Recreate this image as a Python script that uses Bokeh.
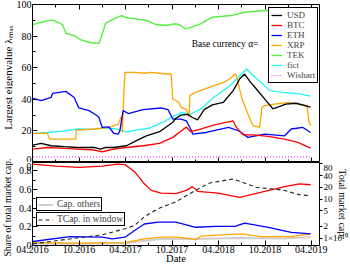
import pandas as pd
from math import pi
from bokeh.plotting import figure
from bokeh.layouts import column, row
from bokeh.models import (Range1d, LinearAxis, LogAxis, DatetimeAxis, FixedTicker,
                          DatetimeTickFormatter, BasicTickFormatter, Label, Legend,
                          LegendItem, LogScale)
from bokeh.embed import file_html
from bokeh.resources import INLINE

FONT = "Liberation Serif"

# ---------------- data ----------------
MAJOR_TICKS = ["2016-04-01", "2016-10-01", "2017-04-01", "2017-10-01",
               "2018-04-01", "2018-10-01", "2019-04-01"]
MINOR_TICKS = ["2016-07-01", "2017-01-01", "2017-07-01", "2018-01-01",
               "2018-07-01", "2019-01-01"]
X_START, X_END = "2016-04-01", "2019-05-03"

EIG_TICKS = [0, 20, 40, 60, 80, 100]
EIG_MINOR = [10, 30, 50, 70, 90]
SHARE_TOP = 0.888
SHARE_TICKS = [0, 0.2, 0.4, 0.6, 0.8]
SHARE_MINOR = [0.1, 0.3, 0.5, 0.7]
CAP_TICKS = [1, 2, 5, 10, 20, 40, 80]
CAP_RANGE = (0.652, 86)

USD_D = ["2016-04-03", "2016-05-05", "2016-06-13", "2016-08-04", "2016-09-25", "2016-11-29",
         "2016-12-24", "2017-01-13", "2017-02-14", "2017-04-05", "2017-05-14", "2017-06-22",
         "2017-08-13", "2017-10-04", "2017-10-16", "2017-11-05", "2017-12-01", "2017-12-20",
         "2018-01-09", "2018-02-04", "2018-03-08", "2018-04-20", "2018-05-29", "2018-06-24",
         "2018-07-13", "2018-08-02", "2018-08-28", "2018-10-06", "2018-11-01", "2018-11-20",
         "2018-12-22", "2019-01-31", "2019-03-29"]
USD_V = [11.0, 12.1, 10.6, 10.0, 9.5, 9.5, 8.5, 9.5, 9.5, 10.6, 13.8, 16.9, 19.5, 25.5, 28.0,
         30.0, 30.5, 28.5, 27.0, 33.5, 36.5, 38.0, 45.5, 53.0, 56.0, 51.5, 46.5, 39.0, 34.0,
         35.0, 37.0, 37.5, 35.0]

BTC_D = ["2016-04-03", "2016-05-30", "2016-07-21", "2016-09-25", "2016-11-29", "2016-12-31",
         "2017-02-14", "2017-04-05", "2017-06-09", "2017-08-13", "2017-10-04", "2017-11-26",
         "2017-12-13", "2018-01-17", "2018-03-20", "2018-05-29", "2018-06-11", "2018-07-07",
         "2018-08-15", "2018-10-14", "2018-12-17", "2019-02-07", "2019-03-29"]
BTC_V = [8.5, 9.5, 9.1, 8.5, 7.9, 6.8, 8.5, 9.5, 10.6, 12.1, 15.9, 22.5, 19.5, 21.0, 24.0,
         26.4, 22.2, 17.5, 17.5, 16.5, 14.8, 12.7, 9.1]

ETH_D = ["2016-04-03", "2016-05-05", "2016-06-13", "2016-06-19", "2016-08-10", "2016-09-12",
         "2016-09-30", "2016-11-09", "2016-12-11", "2016-12-18", "2016-12-31", "2017-01-26",
         "2017-02-14", "2017-03-04", "2017-03-10", "2017-03-23", "2017-04-12", "2017-06-09",
         "2017-08-19", "2017-09-15", "2017-10-04", "2017-11-05", "2017-11-26", "2017-12-13",
         "2017-12-21", "2018-02-11", "2018-05-11", "2018-06-19", "2018-07-26", "2018-09-30",
         "2018-12-17", "2019-01-12", "2019-02-27", "2019-03-29"]
ETH_V = [40.6, 39.1, 41.2, 43.8, 45.0, 41.2, 34.5, 32.8, 29.6, 28.5, 22.2, 22.5, 18.5, 18.0,
         20.0, 32.8, 31.0, 33.5, 34.5, 33.5, 27.5, 27.5, 26.4, 21.2, 18.0, 19.0, 22.2, 20.1,
         15.9, 18.0, 16.9, 21.2, 22.2, 19.0]

XRP_D = ["2016-04-03", "2016-05-30", "2016-06-07", "2016-09-18", "2016-09-20", "2016-11-29",
         "2017-01-26", "2017-03-04", "2017-03-17", "2017-03-20", "2017-03-25", "2017-03-30",
         "2017-05-07", "2017-06-14", "2017-07-11", "2017-09-08", "2017-09-27", "2017-10-04",
         "2017-10-29", "2017-11-05", "2017-11-26", "2017-12-07", "2017-12-10", "2018-01-02",
         "2018-02-23", "2018-04-27", "2018-05-23", "2018-06-05", "2018-06-11", "2018-07-01",
         "2018-07-26", "2018-08-15", "2018-09-10", "2018-09-19", "2018-09-30", "2018-11-08",
         "2019-01-04", "2019-03-15", "2019-03-22", "2019-03-29"]
XRP_V = [18.4, 18.4, 14.8, 14.8, 20.5, 21.2, 22.2, 24.3, 29.6, 19.0, 42.0, 57.0, 57.0, 56.5,
         57.0, 56.0, 56.0, 40.2, 38.0, 35.0, 33.5, 29.0, 42.5, 44.4, 47.6, 51.0, 54.0, 56.0,
         55.0, 41.2, 30.7, 23.3, 22.2, 34.9, 36.0, 37.0, 38.0, 36.0, 26.4, 23.3]

TEK_D = ["2016-04-03", "2016-05-05", "2016-06-19", "2016-07-08", "2016-07-28", "2016-08-10",
         "2016-09-12", "2016-10-08", "2016-11-09", "2016-11-29", "2016-12-18", "2016-12-27",
         "2017-01-13", "2017-02-14", "2017-03-17", "2017-04-05", "2017-05-14", "2017-06-22",
         "2017-07-31", "2017-09-08", "2017-10-16", "2017-11-05", "2017-11-22", "2017-12-07",
         "2018-01-15", "2018-03-06", "2018-05-23", "2018-07-13", "2018-09-30", "2018-12-22",
         "2019-01-31", "2019-03-22", "2019-03-29"]
TEK_V = [87.3, 88.8, 90.3, 88.8, 87.3, 81.8, 80.3, 77.6, 76.1, 75.5, 75.5, 79.3, 88.1, 90.9,
         93.0, 91.6, 90.9, 89.9, 87.3, 86.7, 87.8, 86.7, 84.6, 85.2, 87.3, 91.9, 93.0, 95.1,
         96.2, 96.2, 94.5, 91.9, 90.9]

FICT_D = ["2016-04-03", "2016-05-30", "2016-07-28", "2016-09-25", "2016-11-29", "2017-01-13",
          "2017-03-04", "2017-04-05", "2017-05-14", "2017-07-05", "2017-08-26", "2017-10-10",
          "2017-11-05", "2017-12-13", "2018-01-22", "2018-03-13", "2018-05-16", "2018-07-07",
          "2018-07-22", "2018-08-15", "2018-09-23", "2018-10-19", "2018-12-09", "2019-02-13",
          "2019-03-29"]
FICT_V = [18.4, 19.0, 19.8, 21.2, 21.0, 22.0, 21.0, 19.3, 20.5, 21.8, 25.5, 29.5, 31.5, 30.7,
          33.9, 41.2, 48.6, 57.1, 59.2, 55.0, 49.7, 45.5, 44.4, 43.4, 42.0]

WISH_D = ["2016-04-03", "2019-03-29"]
WISH_V = [3.6, 3.6]

# shares of total market cap.
SBTC_D = ["2016-04-03", "2016-07-01", "2016-10-01", "2017-01-01", "2017-03-01", "2017-03-30",
          "2017-05-07", "2017-06-14", "2017-07-11", "2017-08-19", "2017-10-16", "2017-11-26",
          "2017-12-20", "2018-01-09", "2018-03-31", "2018-06-24", "2018-09-30", "2018-12-17",
          "2019-02-13", "2019-03-29"]
SBTC_V = [0.87, 0.85, 0.835, 0.85, 0.87, 0.865, 0.79, 0.66, 0.59, 0.56, 0.555, 0.59, 0.63,
          0.58, 0.56, 0.515, 0.58, 0.63, 0.66, 0.65]

SETH_D = ["2016-04-03", "2016-08-25", "2016-12-31", "2017-02-08", "2017-03-30", "2017-05-07",
          "2017-06-14", "2017-08-08", "2017-10-16", "2018-01-02", "2018-03-20", "2018-06-05",
          "2018-07-13", "2018-10-14", "2019-01-12", "2019-03-29"]
SETH_V = [0.043, 0.096, 0.089, 0.071, 0.089, 0.16, 0.23, 0.25, 0.25, 0.195, 0.205, 0.205,
          0.24, 0.195, 0.14, 0.125]

SXRP_D = ["2016-04-03", "2016-10-01", "2017-03-30", "2017-06-14", "2017-08-19", "2017-10-16",
          "2017-12-21", "2018-01-02", "2018-01-22", "2018-07-02", "2018-09-19", "2019-01-12",
          "2019-03-29"]
SXRP_V = [0.03, 0.025, 0.03, 0.07, 0.09, 0.09, 0.07, 0.06, 0.10, 0.125, 0.095, 0.095, 0.125]

SOTH_D = ["2016-04-03", "2016-10-01", "2017-03-30", "2017-06-14", "2017-08-19", "2018-01-02",
          "2018-06-05", "2018-12-17", "2019-03-29"]
SOTH_V = [0.02, 0.02, 0.025, 0.05, 0.07, 0.07, 0.08, 0.075, 0.09]

# total market cap. in window (x 10^10)
TCAP_D = ["2016-04-03", "2016-08-25", "2016-12-31", "2017-03-30", "2017-05-07", "2017-06-14",
          "2017-08-08", "2017-10-16", "2017-12-20", "2018-02-23", "2018-05-29", "2018-08-28",
          "2018-12-09", "2019-02-13", "2019-03-29"]
TCAP_V = [0.72, 0.96, 1.22, 1.75, 2.13, 3.5, 5.75, 8.5, 15.0, 25.5, 32.7, 20.0, 17.0, 13.0,
          12.0]


def ms(s):
    return pd.Timestamp(s).value / 1e6


def msl(lst):
    return [ms(s) for s in lst]


MAJ = msl(MAJOR_TICKS)
MIN = msl(MINOR_TICKS)
x_rng = Range1d(ms(X_START), ms(X_END))

TXT = dict(text_font=FONT, text_color="black")
STRIP_W = 13
MAIN_W = 337
BORDER_L, BORDER_R = 16, 29


def style_fig(p):
    p.outline_line_color = "black"
    p.outline_line_alpha = 1.0
    p.outline_line_width = 1
    p.background_fill_color = "white"
    p.border_fill_color = "white"


def tick_style(ax, tin=5, tout=0, min_in=3, min_out=0):
    ax.major_tick_in = tin
    ax.major_tick_out = tout
    ax.minor_tick_in = min_in
    ax.minor_tick_out = min_out
    ax.axis_line_color = None
    ax.major_tick_line_color = "black"
    ax.minor_tick_line_color = "black"
    ax.major_label_text_font = FONT
    ax.major_label_text_color = "black"
    ax.axis_label_text_font = FONT
    ax.axis_label_text_font_style = "normal"
    ax.axis_label_text_color = "black"


# ---------------- strip with the two left axis titles ----------------
strip = figure(width=STRIP_W, height=266, x_range=Range1d(0, STRIP_W),
               y_range=Range1d(266, 0), x_axis_type=None, y_axis_type=None,
               toolbar_location=None, output_backend="svg", min_border=0)
strip.outline_line_color = None
strip.background_fill_color = "white"
strip.border_fill_color = "white"
strip.add_layout(Label(x=7, y=77, angle=pi / 2,
                       text="Largest eigenvalue \u03bb\u2098\u2090\u2093",
                       text_align="center", text_baseline="middle",
                       text_font_size="11px", **TXT))
strip.add_layout(Label(x=7, y=207, angle=pi / 2, text="Share of total market cap.",
                       text_align="center", text_baseline="middle",
                       text_font_size="9.5px", **TXT))

# ---------------- top panel ----------------
p1 = figure(width=MAIN_W, height=162, x_range=x_rng, y_range=Range1d(0, 100),
            x_axis_type=None, y_axis_type=None, toolbar_location=None,
            output_backend="svg", min_border_left=BORDER_L, min_border_right=BORDER_R,
            min_border_top=4, min_border_bottom=0)
style_fig(p1)

for loc in ("below", "above"):
    ax = LinearAxis(ticker=FixedTicker(ticks=MAJ, minor_ticks=MIN))
    tick_style(ax)
    ax.major_label_text_font_size = "0px"
    ax.major_label_text_color = None
    ax.major_label_standoff = 0
    p1.add_layout(ax, loc)

ly = LinearAxis(ticker=FixedTicker(ticks=EIG_TICKS, minor_ticks=EIG_MINOR))
tick_style(ly)
ly.major_label_text_font_size = "10px"
ly.major_label_standoff = 1
p1.add_layout(ly, "left")

r_tek = p1.line(msl(TEK_D), TEK_V, line_color="#55f040", line_width=1.4)
r_fict = p1.line(msl(FICT_D), FICT_V, line_color="#22f5f5", line_width=1.3)
r_xrp = p1.line(msl(XRP_D), XRP_V, line_color="#ffa500", line_width=1.3)
r_eth = p1.line(msl(ETH_D), ETH_V, line_color="#0000ff", line_width=1.3)
r_btc = p1.line(msl(BTC_D), BTC_V, line_color="#ff0000", line_width=1.3)
r_usd = p1.line(msl(USD_D), USD_V, line_color="black", line_width=1.3)
r_wis = p1.line(msl(WISH_D), WISH_V, line_color="#ff44ff", line_width=1.2,
                line_dash="1 2")

leg1 = Legend(items=[LegendItem(label="USD", renderers=[r_usd]),
                     LegendItem(label="BTC", renderers=[r_btc]),
                     LegendItem(label="ETH", renderers=[r_eth]),
                     LegendItem(label="XRP", renderers=[r_xrp]),
                     LegendItem(label="TEK", renderers=[r_tek]),
                     LegendItem(label="fict", renderers=[r_fict]),
                     LegendItem(label="Wishart", renderers=[r_wis])],
              location=(236, 79), margin=0, padding=2, spacing=-4,
              label_text_font=FONT, label_text_font_size="9px",
              glyph_width=11, glyph_height=8, label_height=8, label_standoff=5,
              border_line_color="black", border_line_width=1, border_line_alpha=1,
              background_fill_color="white", background_fill_alpha=1)
p1.add_layout(leg1, "center")

p1.add_layout(Label(x=ms(X_END), y=75, x_offset=-61, text="Base currency \u03b1=",
                    text_align="right", text_baseline="middle",
                    text_font_size="9.5px", **TXT))

# ---------------- bottom panel ----------------
p2 = figure(width=MAIN_W, height=104, x_range=x_rng, y_range=Range1d(0, SHARE_TOP),
            x_axis_type=None, y_axis_type=None, toolbar_location=None,
            output_backend="svg", min_border_left=BORDER_L, min_border_right=BORDER_R,
            min_border_top=0, min_border_bottom=21)
style_fig(p2)
p2.extra_y_ranges = {"cap": Range1d(*CAP_RANGE)}
p2.extra_y_scales = {"cap": LogScale()}

bx = DatetimeAxis(ticker=FixedTicker(ticks=MAJ, minor_ticks=MIN))
tick_style(bx)
fmt = "%m.%Y"
bx.formatter = DatetimeTickFormatter(microseconds=fmt, milliseconds=fmt, seconds=fmt,
                                     minsec=fmt, minutes=fmt, hourmin=fmt, hours=fmt,
                                     days=fmt, months=fmt, years=fmt,
                                     strip_leading_zeros=False)
bx.major_label_text_font_size = "10px"
bx.major_label_standoff = 0
bx.axis_label = "Date"
bx.axis_label_text_font_size = "10.5px"
bx.axis_label_standoff = -3
p2.add_layout(bx, "below")

# left axis: share ticks, plus the top panel's "0" at the shared border
sy = LinearAxis(ticker=FixedTicker(ticks=SHARE_TICKS + [SHARE_TOP], minor_ticks=SHARE_MINOR),
                major_label_overrides={SHARE_TOP: "0"})
tick_style(sy)
sy.major_label_text_font_size = "10px"
sy.major_label_standoff = 1
p2.add_layout(sy, "left")

cy = LogAxis(y_range_name="cap", ticker=FixedTicker(ticks=CAP_TICKS, minor_ticks=[]),
             formatter=BasicTickFormatter(),
             major_label_overrides={1: "1\u00d710\u00b9\u2070"})
tick_style(cy, tin=0, tout=3, min_in=0, min_out=0)
cy.major_label_text_font_size = "9px"
cy.major_label_standoff = 1
cy.axis_label = "Total market cap."
cy.axis_label_text_font_size = "10px"
cy.axis_label_standoff = -14
p2.add_layout(cy, "right")

r_oth = p2.line(msl(SOTH_D), SOTH_V, line_color="#cfcfcf", line_width=2)
p2.line(msl(SXRP_D), SXRP_V, line_color="#ffa500", line_width=1.3)
p2.line(msl(SETH_D), SETH_V, line_color="#0000ff", line_width=1.3)
p2.line(msl(SBTC_D), SBTC_V, line_color="#ff0000", line_width=1.3)
r_tc = p2.line(msl(TCAP_D), TCAP_V, y_range_name="cap", line_color="#222222",
               line_width=1.1, line_dash="4 3")

for item, r, y in (("Cap. others", r_oth, 34), ("TCap. in window", r_tc, 19)):
    lg = Legend(items=[LegendItem(label=item, renderers=[r])], location=(4, y),
                margin=0, padding=1, spacing=0, label_text_font=FONT,
                label_text_font_size="9.5px", glyph_width=15, glyph_height=9,
                label_height=9, label_standoff=4, border_line_color="black",
                border_line_width=1, border_line_alpha=1,
                background_fill_color="white", background_fill_alpha=1)
    p2.add_layout(lg, "center")

layout = row(strip, column(p1, p2, spacing=0), spacing=0)
open("out.html", "w").write(file_html(layout, INLINE))
